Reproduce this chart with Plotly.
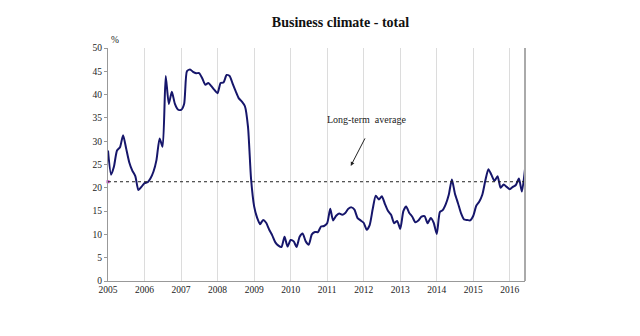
import plotly.graph_objects as go
import pandas as pd

# Monthly business climate values, Jan 2005 .. Jun 2016
values = [
    # 2005
    28.0, 22.8, 24.5, 28.0, 28.7, 31.3, 28.5, 25.5, 23.7, 22.5, 19.5, 20.2,
    # 2006
    21.0, 21.2, 22.0, 23.5, 26.0, 30.6, 28.8, 44.0, 38.0, 40.6, 38.0, 36.8,
    # 2007
    36.7, 38.0, 45.0, 45.4, 44.9, 44.6, 44.6, 43.5, 42.1, 42.5, 41.8, 41.0,
    # 2008
    40.3, 42.5, 42.6, 44.2, 44.0, 42.3, 40.7, 39.2, 38.5, 37.5, 33.0, 22.0,
    # 2009
    16.0, 13.5, 12.2, 13.1, 12.5, 11.0, 9.8, 8.3, 7.6, 7.3, 9.5, 7.4,
    # 2010
    8.8, 8.5, 7.3, 9.5, 10.2, 8.5, 7.8, 10.0, 10.5, 10.5, 11.7, 11.8,
    # 2011
    12.4, 15.5, 13.0, 14.0, 14.5, 14.2, 14.6, 15.5, 15.8, 15.3, 13.5, 13.0,
    # 2012
    12.5, 11.0, 12.0, 15.5, 18.3, 17.5, 18.2, 16.5, 15.0, 14.2, 12.4, 12.9,
    # 2013
    11.2, 15.0, 16.0, 14.6, 13.8, 12.6, 13.0, 13.8, 13.9, 12.4, 13.5, 12.5,
    # 2014
    10.1, 14.8, 15.2, 16.5, 18.5, 21.8, 18.8, 16.7, 14.5, 13.2, 13.1, 13.0,
    # 2015
    14.0, 16.2, 17.0, 18.5, 21.5, 24.0, 22.8, 21.5, 22.5, 20.0, 20.7, 20.2,
    # 2016
    19.7, 20.2, 20.6, 22.0, 19.2, 24.0,
]
months = pd.date_range("2005-01-01", periods=len(values), freq="MS")
long_term_average = 21.3
year_ticks = [f"{y}-01-01" for y in range(2005, 2017)]
year_labels = [str(y) for y in range(2005, 2017)]
y_ticks = list(range(0, 51, 5))

serif = "Liberation Serif, Times New Roman, serif"

fig = go.Figure()
fig.add_trace(go.Scatter(
    x=months, y=values, mode="lines",
    line=dict(color="#16166b", width=2, shape="spline", smoothing=0.6),
    hoverinfo="x+y", showlegend=False,
))

# long-term average dotted line
fig.add_shape(type="line", xref="paper", yref="y", x0=0, x1=1,
              y0=long_term_average, y1=long_term_average,
              line=dict(color="#222222", width=1, dash="dot"))
fig.add_trace(go.Scatter(x=[months[0]], y=[long_term_average], mode="markers",
                         marker=dict(color="#cc33cc", size=3, symbol="square"),
                         showlegend=False, hoverinfo="skip", cliponaxis=False))

fig.add_annotation(x="2011-08-25", y=long_term_average + 3.4, ax=15, ay=-29,
                   xref="x", yref="y", axref="pixel", ayref="pixel",
                   text="", showarrow=True, arrowhead=2, arrowsize=0.8,
                   arrowwidth=1, arrowcolor="#222222")
fig.add_annotation(x="2012-02-01", y=34.6, xref="x", yref="y",
                   text="Long-term  average", showarrow=False,
                   font=dict(family=serif, size=10, color="#222222"))
fig.add_annotation(x=0, y=1, xref="paper", yref="paper", xanchor="left",
                   yanchor="bottom", yshift=1, xshift=1, text="%", showarrow=False,
                   font=dict(family=serif, size=9.5, color="#222222"))

fig.update_layout(
    width=640, height=336,
    margin=dict(l=108, r=115, t=48, b=55),
    paper_bgcolor="white", plot_bgcolor="white",
    title=dict(text="<b>Business climate - total</b>", x=0.532, xanchor="center",
               y=0.935, yanchor="middle",
               font=dict(family=serif, size=14, color="#111111")),
    font=dict(family=serif, size=9.5, color="#222222"),
)
fig.update_xaxes(
    range=["2005-01-01", "2016-06-01"], tickvals=year_ticks, ticktext=year_labels,
    showgrid=True, gridcolor="#dcdcdc", gridwidth=1,
    showline=True, linecolor="#999999", linewidth=1, mirror=False,
    ticks="", tickfont=dict(family=serif, size=9.5, color="#222222"), zeroline=False,
)
fig.update_yaxes(
    range=[0, 50], tickvals=y_ticks, showgrid=False,
    showline=True, linecolor="#999999", linewidth=1,
    ticks="outside", ticklen=3, tickcolor="#999999",
    tickfont=dict(family=serif, size=9.5, color="#222222"), zeroline=False,
)
# right border line
fig.add_shape(type="line", xref="paper", yref="paper", x0=1, x1=1, y0=0, y1=1,
              line=dict(color="#aaaaaa", width=2))

fig.write_html("out.html")
